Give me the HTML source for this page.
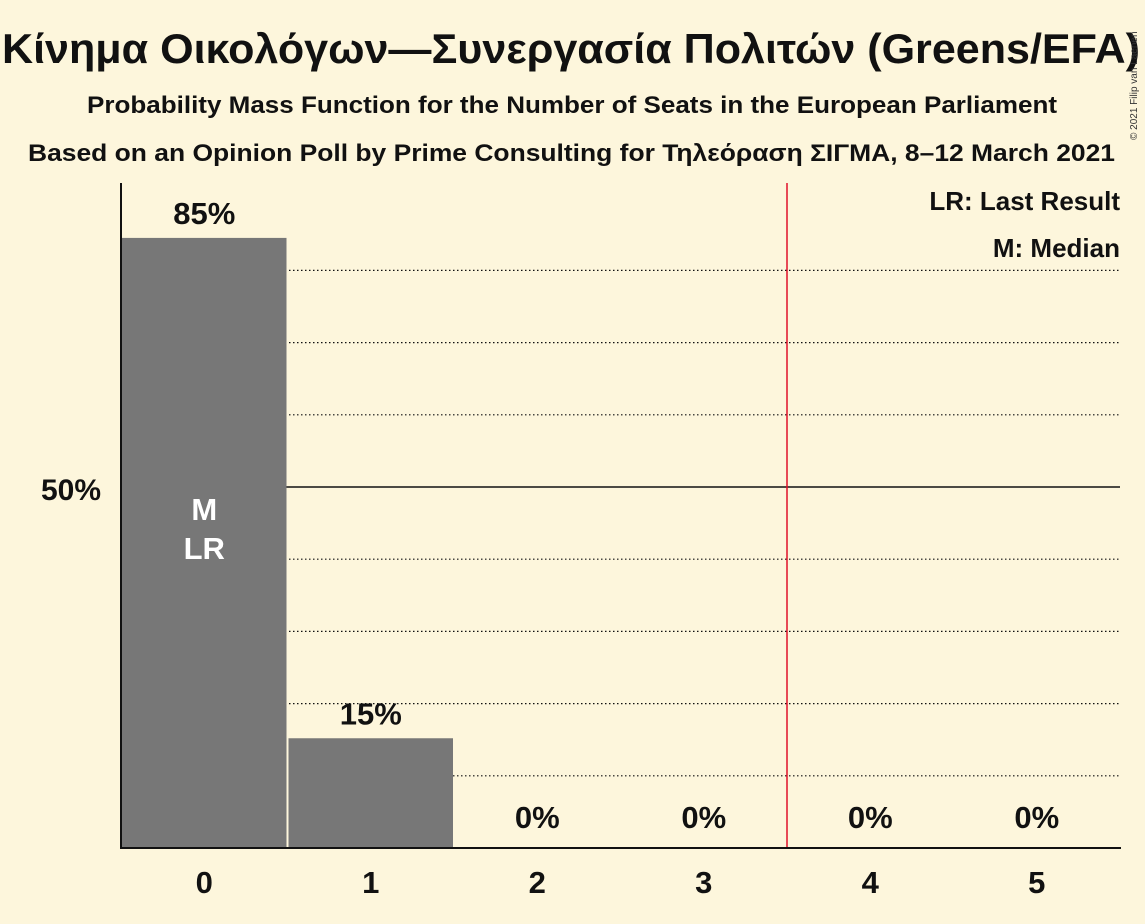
<!DOCTYPE html>
<html><head><meta charset="utf-8"><style>
body{margin:0;background:#fdf6dc;}
svg{display:block;font-family:"Liberation Sans","DejaVu Sans",sans-serif;font-weight:bold;}
</style></head><body>
<svg width="1145" height="924" viewBox="0 0 1145 924">
<rect width="1145" height="924" fill="#fdf6dc"/>
<text x="2" y="63" font-size="42" fill="#111" textLength="1138" lengthAdjust="spacingAndGlyphs">Κίνημα Οικολόγων—Συνεργασία Πολιτών (Greens/EFA)</text>
<text x="87" y="113" font-size="24" fill="#111" textLength="970" lengthAdjust="spacingAndGlyphs">Probability Mass Function for the Number of Seats in the European Parliament</text>
<text x="28" y="161" font-size="24" fill="#111" textLength="1087" lengthAdjust="spacingAndGlyphs">Based on an Opinion Poll by Prime Consulting for Τηλεόραση ΣΙΓΜΑ, 8–12 March 2021</text>
<text x="1137" y="140" font-size="10" font-weight="normal" fill="#333" transform="rotate(-90 1137 140)">© 2021 Filip van Laenen</text>
<g id="grid"></g>
<g id="bars"></g>
<line x1="787" y1="183" x2="787" y2="848" stroke="#e0102a" stroke-width="1.5"/>
<line x1="121" y1="183" x2="121" y2="849" stroke="#111" stroke-width="2"/>
<line x1="120" y1="848" x2="1121" y2="848" stroke="#111" stroke-width="2"/>
<text x="101" y="500" text-anchor="end" font-size="30" fill="#111">50%</text>
<text x="1120" y="210" text-anchor="end" font-size="26" fill="#111">LR: Last Result</text>
<text x="1120" y="257" text-anchor="end" font-size="26" fill="#111">M: Median</text>
</svg>
<script>
const categories=[0,1,2,3,4,5];
const values=[84.5,15.2,0,0,0,0];
const labels=["85%","15%","0%","0%","0%","0%"];
const gridTicks=[10,20,30,40,50,60,70,80];
const x0=121,bw=166.5,y0=848,h100=722;
const xs=i=>x0+i*bw, ys=v=>y0-v/100*h100;
const ns="http://www.w3.org/2000/svg";
const grid=document.getElementById('grid'),bars=document.getElementById('bars');
gridTicks.forEach(t=>{
 const l=document.createElementNS(ns,'line');
 l.setAttribute('x1',121);l.setAttribute('x2',1120);
 l.setAttribute('y1',ys(t));l.setAttribute('y2',ys(t));
 l.setAttribute('stroke','#111');
 if(t===50){l.setAttribute('stroke-width','1.5');}else{l.setAttribute('stroke-width','1.2');l.setAttribute('stroke-dasharray','1.5 2.5');}
 
 
 grid.appendChild(l);
});
categories.forEach((c,i)=>{
 const v=values[i];
 if(v>0){
  const r=document.createElementNS(ns,'rect');
  r.setAttribute('x',xs(i)+1);r.setAttribute('width',bw-2);
  r.setAttribute('y',ys(v));r.setAttribute('height',y0-ys(v));
  r.setAttribute('fill','#777');
  
  
  bars.appendChild(r);
 }
 const t=document.createElementNS(ns,'text');
 t.setAttribute('x',xs(i)+bw/2);t.setAttribute('y',(v>0?ys(v)-14:y0-20));
 t.setAttribute('text-anchor','middle');t.setAttribute('font-size','31');t.setAttribute('fill','#111');
 t.textContent=labels[i];
 
 
 bars.appendChild(t);
 const xl=document.createElementNS(ns,'text');
 xl.setAttribute('x',xs(i)+bw/2);xl.setAttribute('y',893);
 xl.setAttribute('text-anchor','middle');xl.setAttribute('font-size','31');xl.setAttribute('fill','#111');
 xl.textContent=c;
 
 
 bars.appendChild(xl);
});
[["M",520],["LR",559]].forEach(([s,y])=>{
 const t=document.createElementNS(ns,'text');
 t.setAttribute('x',xs(0)+bw/2);t.setAttribute('y',y);
 t.setAttribute('text-anchor','middle');t.setAttribute('font-size','31');t.setAttribute('fill','#fff');
 t.textContent=s;
 
 
 bars.appendChild(t);
});
</script>
</body></html>
